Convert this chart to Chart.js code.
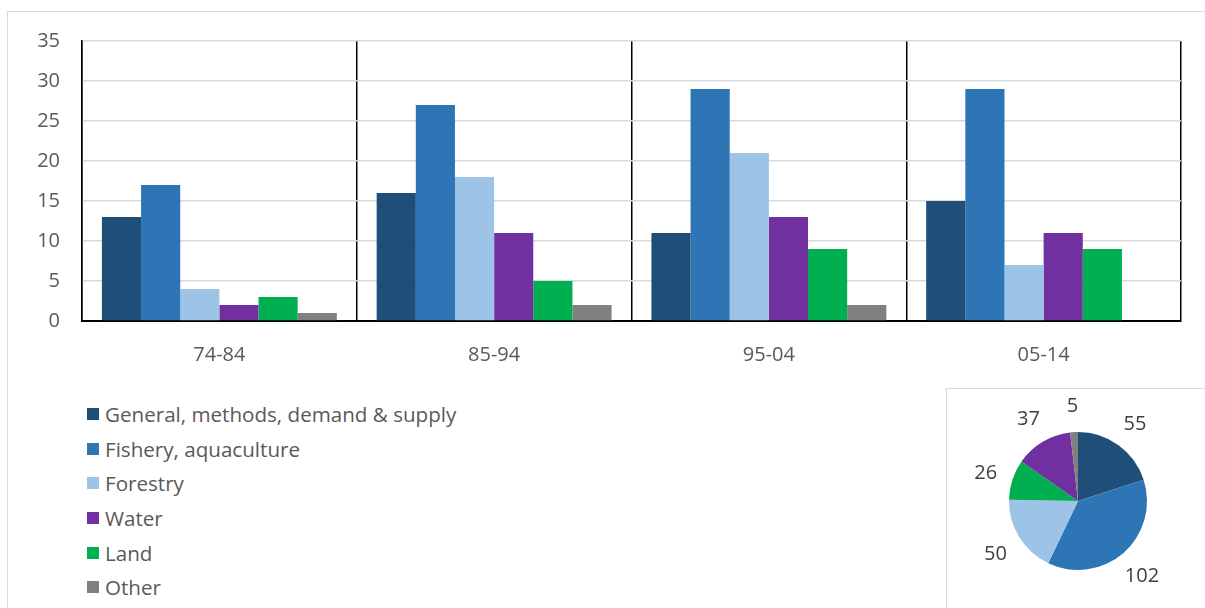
<!DOCTYPE html>
<html>
<head>
<meta charset="utf-8">
<script src="https://cdn.jsdelivr.net/npm/chart.js@4"></script>
<style>
  html, body { margin: 0; padding: 0; background: #fff; }
  body { width: 1205px; height: 608px; position: relative; overflow: hidden; font-family: 'Open Sans', sans-serif; }
  #frame { position: absolute; left: 7px; top: 11px; width: 1300px; height: 700px; border: 1.5px solid #d9d9d9; }
  #barWrap { position: absolute; left: 0; top: 0; width: 1205px; height: 380px; }
  #legend { position: absolute; left: 87px; top: 397px; }
  .item { height: 34.6px; display: flex; align-items: center; font-size: 20.6px; color: #595959; white-space: nowrap; }
  .box { width: 12px; height: 12px; margin-right: 6px; }
  #pieBox { position: absolute; left: 946px; top: 388px; width: 400px; height: 400px; border: 1.5px solid #d9d9d9; background: #fff; }
  #pieWrap { position: absolute; left: 946px; top: 388px; width: 259px; height: 220px; }
</style>
</head>
<body>
<div id="frame"></div>
<div id="barWrap"><canvas id="barChart" width="1205" height="380"></canvas></div>
<div id="legend"></div>
<div id="pieBox"></div>
<div id="pieWrap"><canvas id="pieChart" width="259" height="220"></canvas></div>
<script>
// Periodos
const periods = ['74-84', '85-94', '95-04', '05-14'];
// Temas
const topics = ['General, methods, demand & supply', 'Fishery, aquaculture', 'Forestry', 'Water', 'Land', 'Other'];
const topicColors = ['#1f4e79', '#2e75b6', '#9dc3e6', '#7030a0', '#00b050', '#808080'];
// Valores por tema
const general = [13, 16, 11, 15];
const fishery = [17, 27, 29, 29];
const forestry = [4, 18, 21, 7];
const water = [2, 11, 13, 11];
const land = [3, 5, 9, 9];
const other = [1, 2, 2, 0];
// Totales (pie)
const pieLabels = ['General, methods, demand & supply', 'Fishery, aquaculture', 'Forestry', 'Land', 'Water', 'Other'];
const pieValues = [55, 102, 50, 26, 37, 5];
const pieColors = ['#1f4e79', '#2e75b6', '#9dc3e6', '#00b050', '#7030a0', '#808080'];

const seriesValues = [general, fishery, forestry, water, land, other];
const textColor = '#595959';
const fontFamily = "'Open Sans', sans-serif";

/* Leyenda */
const legend = document.getElementById('legend');
topics.forEach(function(name, i) {
    const row = document.createElement('div');
    row.className = 'item';
    row.innerHTML = '<div class="box" style="background:' + topicColors[i] + '"></div>' + name;
    legend.appendChild(row);
});

/* Barras */
new Chart(document.getElementById('barChart'), {
    type: 'bar',
    data: {
        labels: periods,
        datasets: topics.map(function(name, i) {
            return {
                label: name,
                data: seriesValues[i],
                backgroundColor: topicColors[i],
                borderWidth: 0,
                categoryPercentage: 0.855,
                barPercentage: 1.0
            };
        })
    },
    options: {
        responsive: false,
        animation: false,
        layout: { padding: { left: 0, right: 24, top: 41, bottom: 0 } },
        plugins: { legend: { display: false }, tooltip: { enabled: false } },
        scales: {
            x: {
                grid: { color: '#000', lineWidth: 1.5, drawTicks: false },
                border: { color: '#000', width: 2 },
                ticks: { color: textColor, font: { family: fontFamily, size: 20 }, padding: 22 },
                afterFit: function(scale) { scale.height = 59; }
            },
            y: {
                min: 0,
                max: 35,
                grid: { color: '#d9d9d9', lineWidth: 1.5, drawTicks: false },
                border: { color: '#000', width: 1.5 },
                ticks: { stepSize: 5, color: textColor, font: { family: fontFamily, size: 20 }, padding: 22 },
                afterFit: function(scale) { scale.width = 82; }
            }
        }
    }
});

/* Etiquetas del pie */
const pieValueLabels = {
    id: 'pieValueLabels',
    afterDatasetsDraw: function(chart) {
        const ctx = chart.ctx;
        const meta = chart.getDatasetMeta(0);
        ctx.save();
        ctx.font = '20px ' + fontFamily;
        ctx.fillStyle = '#404040';
        ctx.textAlign = 'center';
        ctx.textBaseline = 'middle';
        meta.data.forEach(function(arc, i) {
            const p = arc.getProps(['x', 'y', 'startAngle', 'endAngle', 'outerRadius'], true);
            const mid = (p.startAngle + p.endAngle) / 2;
            const r = p.outerRadius + 28;
            ctx.fillText(String(chart.data.datasets[0].data[i]), p.x + Math.cos(mid) * r, p.y + Math.sin(mid) * r + 2);
        });
        ctx.restore();
    }
};

new Chart(document.getElementById('pieChart'), {
    type: 'pie',
    data: {
        labels: pieLabels,
        datasets: [{ data: pieValues, backgroundColor: pieColors, borderWidth: 0 }]
    },
    options: {
        responsive: false,
        animation: false,
        layout: { padding: { left: 63, right: 58, top: 44, bottom: 38 } },
        plugins: { legend: { display: false }, tooltip: { enabled: false } }
    },
    plugins: [pieValueLabels]
});
</script>
</body>
</html>
